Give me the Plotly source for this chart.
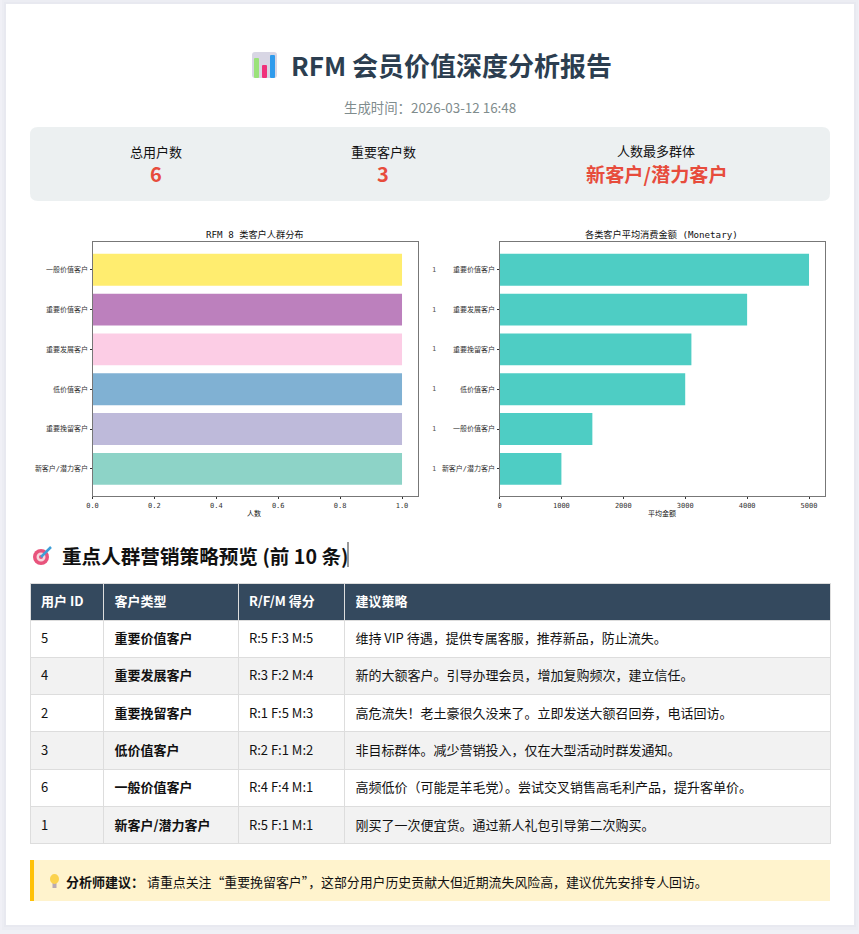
import plotly.graph_objects as go

W, H = 859, 934
FONT = "'Noto Sans CJK SC', 'Noto Sans', sans-serif"
CHART_FONT = "'DejaVu Sans Mono', 'Noto Sans CJK SC', monospace"

# Left chart
dist_labels = ["新客户/潜力客户", "重要挽留客户", "低价值客户", "重要发展客户", "重要价值客户", "一般价值客户"]
dist_values = [1, 1, 1, 1, 1, 1]
dist_colors = ["#8dd3c7", "#bebada", "#80b1d3", "#fccde5", "#bc80bd", "#ffed6f"]
dist_ticks = [0.0, 0.2, 0.4, 0.6, 0.8, 1.0]

# Right chart
money_labels = ["新客户/潜力客户", "一般价值客户", "低价值客户", "重要挽留客户", "重要发展客户", "重要价值客户"]
money_values = [1000, 1500, 3000, 3100, 4000, 5000]
money_ticks = [0, 1000, 2000, 3000, 4000, 5000]

# Table
table_header = ["用户 ID", "客户类型", "R/F/M 得分", "建议策略"]
user_ids = ["5", "4", "2", "3", "6", "1"]
user_types = ["重要价值客户", "重要发展客户", "重要挽留客户", "低价值客户", "一般价值客户", "新客户/潜力客户"]
user_scores = ["R:5 F:3 M:5", "R:3 F:2 M:4", "R:1 F:5 M:3", "R:2 F:1 M:2", "R:4 F:4 M:1", "R:5 F:1 M:1"]
user_advice = [
    "维持 VIP 待遇，提供专属客服，推荐新品，防止流失。",
    "新的大额客户。引导办理会员，增加复购频次，建立信任。",
    "高危流失！老土豪很久没来了。立即发送大额召回券，电话回访。",
    "非目标群体。减少营销投入，仅在大型活动时群发通知。",
    "高频低价（可能是羊毛党）。尝试交叉销售高毛利产品，提升客单价。",
    "刚买了一次便宜货。通过新人礼包引导第二次购买。",
]

def fx(x): return x / W
def fy(y): return 1 - y / H

fig = go.Figure()

fig.add_trace(go.Bar(y=dist_labels, x=dist_values, orientation="h", width=0.8,
                     marker=dict(color=dist_colors, line_width=0), opacity=1,
                     xaxis="x", yaxis="y", showlegend=False))
fig.add_trace(go.Bar(y=money_labels, x=money_values, orientation="h", width=0.8,
                     marker=dict(color="#4ecdc4", line_width=0),
                     xaxis="x2", yaxis="y2", showlegend=False))

def span(t): return f"<span>&nbsp;{t}</span>"
def bold(t): return f"<b>&nbsp;{t}</b>"

row_fill = ["#ffffff", "#f2f2f2", "#ffffff", "#f2f2f2", "#ffffff", "#f2f2f2"]
fig.add_trace(go.Table(
    domain=dict(x=[fx(30), fx(830.5)], y=[fy(846), fy(583)]),
    columnwidth=[73.5, 134.5, 106.5, 485.5],
    header=dict(values=[bold(h) for h in table_header], height=37,
                fill_color="#34495e", line=dict(color="#dddddd", width=1),
                font=dict(color="white", size=13, family=FONT), align="left"),
    cells=dict(values=[[span(v) for v in user_ids], [bold(t) for t in user_types],
                       [span(v) for v in user_scores], [span(v) for v in user_advice]],
               height=37.3, fill_color=[row_fill] * 4, line=dict(color="#dddddd", width=1),
               font=dict(color="#111111", size=13, family=FONT), align="left"),
))

axis_common = dict(showgrid=False, zeroline=False, showline=True, linecolor="#777777", linewidth=1,
                   mirror=True, ticks="outside", ticklen=2, tickwidth=0.8, tickcolor="#333333",
                   automargin=False,
                   tickfont=dict(size=7, color="#333333", family=CHART_FONT))

def label(text, x, y, size, color="#111111", bold=False, anchor="center", family=FONT):
    fig.add_annotation(xref="paper", yref="paper", x=fx(x), y=fy(y), text=f"<b>{text}</b>" if bold else text,
                       showarrow=False, xanchor=anchor, yanchor="middle",
                       font=dict(size=size, color=color, family=family))

def rect(x0, y0, x1, y1, **kw):
    fig.add_shape(type="rect", xref="paper", yref="paper", x0=fx(x0), x1=fx(x1), y0=fy(y0), y1=fy(y1),
                  layer="below", **kw)

def rpath(x0, y0, x1, y1, r, color):
    p = (f"M{fx(x0+r)},{fy(y0)} L{fx(x1-r)},{fy(y0)} Q{fx(x1)},{fy(y0)} {fx(x1)},{fy(y0+r)} "
         f"L{fx(x1)},{fy(y1-r)} Q{fx(x1)},{fy(y1)} {fx(x1-r)},{fy(y1)} L{fx(x0+r)},{fy(y1)} "
         f"Q{fx(x0)},{fy(y1)} {fx(x0)},{fy(y1-r)} L{fx(x0)},{fy(y0+r)} Q{fx(x0)},{fy(y0)} {fx(x0+r)},{fy(y0)} Z")
    fig.add_shape(type="path", xref="paper", yref="paper", path=p, fillcolor=color, line_width=0, layer="below")

# Card with a soft edge
rect(2, 0, 858, 930, fillcolor="#ecedf3", line_width=0)
rect(4, 2, 856, 927, fillcolor="#e8e9f0", line_width=0)
rect(6, 4, 854, 925, fillcolor="#ffffff", line_width=0)
rpath(30, 127, 830, 201, 8, "#ecf0f1")
rect(30, 860, 830, 901, fillcolor="#fff3cd", line_width=0)
rect(30, 860, 34, 901, fillcolor="#ffc107", line_width=0)

# Caret after heading
rect(347.6, 542, 348.4, 567, fillcolor="#000000", line_width=0)

# Title icon
rpath(252, 52, 277, 78, 3, "#d8d6e4")
rpath(254, 58, 259, 78, 1, "#9be27a")
rpath(262, 65, 267, 78, 1, "#f0307a")
rpath(270, 55, 275, 78, 1, "#2f9bec")

# Target icon
fig.add_shape(type="circle", xref="paper", yref="paper", x0=fx(33), x1=fx(49), y0=fy(565), y1=fy(549),
              fillcolor="#e8537c", line_width=0)
fig.add_shape(type="circle", xref="paper", yref="paper", x0=fx(36.5), x1=fx(45.5), y0=fy(561.5), y1=fy(552.5),
              fillcolor="#f7d5dc", line_width=0)
fig.add_shape(type="circle", xref="paper", yref="paper", x0=fx(39), x1=fx(43), y0=fy(559), y1=fy(555),
              fillcolor="#e8537c", line_width=0)
fig.add_shape(type="line", xref="paper", yref="paper", x0=fx(41), x1=fx(51), y0=fy(557), y1=fy(547),
              line=dict(color="#3f9fd8", width=2.5))

# Bulb icon
fig.add_shape(type="circle", xref="paper", yref="paper", x0=fx(50), x1=fx(59), y0=fy(884), y1=fy(874),
              fillcolor="#fbd24e", line_width=0)
rect(52.5, 883, 56.5, 888, fillcolor="#b8a9b4", line_width=0)

label("RFM 会员价值深度分析报告", 451, 65, 26, "#2c3e50", True)
label("生成时间：2026-03-12 16:48", 430, 107, 13.4, "#7f8c8d")

label("总用户数", 156, 151, 13, "#111111")
label("重要客户数", 383, 151, 13, "#111111")
label("人数最多群体", 656, 150.5, 13, "#111111")
label("6", 156, 173.5, 20, "#e74c3c", True)
label("3", 383, 173.5, 20, "#e74c3c", True)
label("新客户/潜力客户", 657, 174, 19.2, "#e74c3c", True)

label("重点人群营销策略预览 (前 10 条)", 59.5, 555, 19.6, "#111111", True, "left")
label("分析师建议：", 64, 881, 13, "#111111", True, "left")
label("请重点关注“重要挽留客户”，这部分用户历史贡献大但近期流失风险高，建议优先安排专人回访。", 145, 881, 12.9, "#111111", False, "left")

label("RFM 8 类客户人群分布", 254.5, 234, 9.2, "#111111", False, "center", CHART_FONT)
label("各类客户平均消费金额 (Monetary)", 661, 234, 9.2, "#111111", False, "center", CHART_FONT)
label("人数", 254, 513, 7, "#111111", False, "center", CHART_FONT)
label("平均金额", 661.5, 513, 7, "#111111", False, "center", CHART_FONT)

for name in money_labels:
    fig.add_annotation(xref="paper", yref="y2", x=fx(434), y=name, text="1", showarrow=False,
                       font=dict(size=7, color="#555555", family=CHART_FONT))

fig.update_layout(
    width=W, height=H, margin=dict(l=0, r=0, t=0, b=0, autoexpand=False), paper_bgcolor="#f0f0f6", plot_bgcolor="white",
    bargap=0.2, showlegend=False,
    xaxis=dict(domain=[fx(92.5), fx(417.5)], range=[0, 1.05], tickvals=dist_ticks, tickformat=".1f", anchor="y", **axis_common),
    yaxis=dict(domain=[fy(496.3), fy(242.3)], range=[-0.69, 5.69], type="category", categoryorder="array",
               categoryarray=dist_labels, anchor="x", **axis_common),
    xaxis2=dict(domain=[fx(499.5), fx(824.5)], range=[0, 5250], tickvals=money_ticks, anchor="y2", **axis_common),
    yaxis2=dict(domain=[fy(496.3), fy(242.3)], range=[-0.69, 5.69], type="category", categoryorder="array",
                categoryarray=money_labels, anchor="x2", **axis_common),
)

fig.write_html("out.html", config={"displayModeBar": False},
               post_script="document.body.style.margin='0';document.body.style.overflow='hidden';")
